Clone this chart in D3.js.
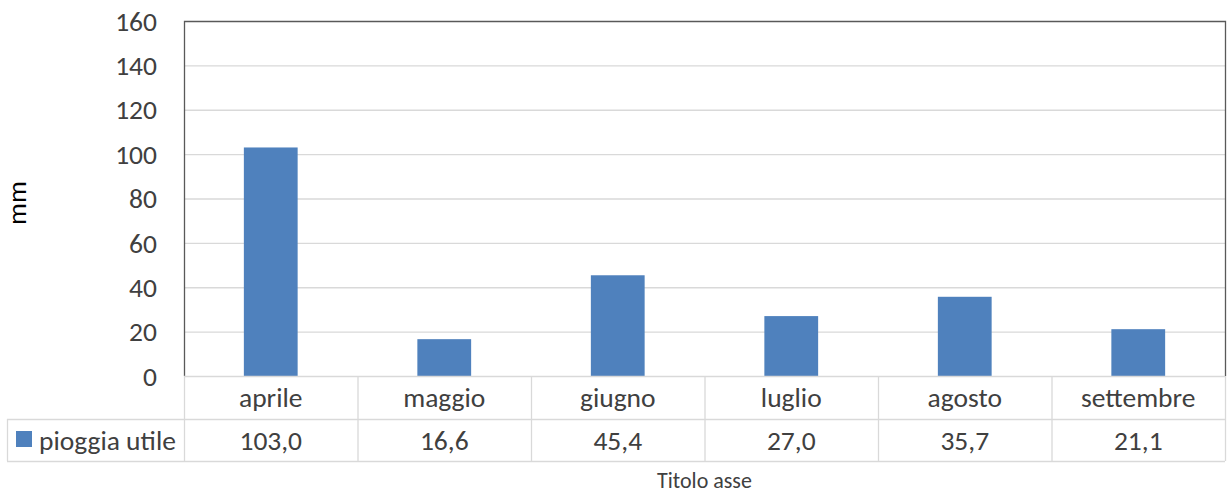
<!DOCTYPE html>
<html>
<head>
<meta charset="utf-8">
<script src="https://cdn.jsdelivr.net/npm/d3@7"></script>
<style>
  body { margin: 0; background: #fff; }
  text { font-family: Carlito, Lato, "Open Sans", sans-serif; fill: #404040; }
</style>
</head>
<body>
<svg id="chart"></svg>
<script>
var months = ["aprile", "maggio", "giugno", "luglio", "agosto", "settembre"];
var rainValues = [103.0, 16.6, 45.4, 27.0, 35.7, 21.1];
var seriesName = "pioggia utile";
var yTicks = [0, 20, 40, 60, 80, 100, 120, 140, 160];

var W = 1227, H = 493;
var plotLeft = 184, plotRight = 1225, plotTop = 21, zeroY = 376;
var row1 = 419, row2 = 461, legendLeft = 7;
var fs = "27.5px";

var svg = d3.select("#chart").attr("width", W).attr("height", H);

var x = d3.scaleBand().domain(months).range([plotLeft, plotRight]).paddingInner(0).paddingOuter(0);
var y = d3.scaleLinear().domain([0, 160]).range([zeroY, plotTop]);
var barW = x.bandwidth() * 0.31;

// gridlines
svg.append("g").selectAll("line").data(yTicks.filter(function(d) { return d > 0 && d < 160; }))
  .enter().append("line")
  .attr("x1", plotLeft).attr("x2", plotRight)
  .attr("y1", function(d) { return y(d) + 0.5; }).attr("y2", function(d) { return y(d) + 0.5; })
  .attr("stroke", "#d9d9d9").attr("stroke-width", 1.3);

// bars
svg.append("g").selectAll("rect").data(rainValues).enter().append("rect")
  .attr("x", function(d, i) { return x(months[i]) + x.bandwidth() / 2 - barW / 2; })
  .attr("y", function(d) { return y(d); })
  .attr("width", barW)
  .attr("height", function(d) { return zeroY - y(d); })
  .attr("fill", "#4f81bd");

// plot frame
svg.append("path")
  .attr("d", "M" + (plotLeft + 0.5) + "," + zeroY + "V" + (plotTop + 0.5) + "H" + (plotRight + 0.5) + "V" + zeroY)
  .attr("fill", "none").attr("stroke", "#595959").attr("stroke-width", 1.3);

// y tick labels
svg.append("g").selectAll("text").data(yTicks).enter().append("text")
  .attr("x", 157).attr("y", function(d) { return y(d); })
  .attr("dy", "0.35em").attr("text-anchor", "end")
  .style("font-size", fs).text(function(d) { return d; });

// y title
svg.append("text").attr("transform", "translate(26,203) rotate(-90)")
  .attr("text-anchor", "middle").style("font-size", fs).style("fill", "#000").text("mm");

// data table grid
var grid = svg.append("g").attr("stroke", "#d9d9d9").attr("stroke-width", 1.3);
grid.append("line").attr("x1", plotLeft).attr("x2", plotRight).attr("y1", zeroY + 0.5).attr("y2", zeroY + 0.5);
grid.append("line").attr("x1", legendLeft).attr("x2", plotRight).attr("y1", row1 + 0.5).attr("y2", row1 + 0.5);
grid.append("line").attr("x1", legendLeft).attr("x2", plotRight).attr("y1", row2 + 0.5).attr("y2", row2 + 0.5);
grid.append("line").attr("x1", legendLeft + 0.5).attr("x2", legendLeft + 0.5).attr("y1", row1).attr("y2", row2);
grid.selectAll("line.v").data(months.concat(["end"])).enter().append("line")
  .attr("class", "v")
  .attr("x1", function(d) { return (d === "end" ? plotRight : x(d)) + 0.5; })
  .attr("x2", function(d) { return (d === "end" ? plotRight : x(d)) + 0.5; })
  .attr("y1", zeroY).attr("y2", row2);

// category labels
svg.append("g").selectAll("text").data(months).enter().append("text")
  .attr("x", function(d) { return x(d) + x.bandwidth() / 2; })
  .attr("y", (zeroY + row1) / 2).attr("dy", "0.35em")
  .attr("text-anchor", "middle").style("font-size", fs).text(function(d) { return d; });

// values row
svg.append("g").selectAll("text").data(rainValues).enter().append("text")
  .attr("x", function(d, i) { return x(months[i]) + x.bandwidth() / 2; })
  .attr("y", (row1 + row2) / 2).attr("dy", "0.35em")
  .attr("text-anchor", "middle").style("font-size", fs)
  .text(function(d) { return d.toFixed(1).replace(".", ","); });

// legend key
svg.append("rect").attr("x", 16).attr("y", 431).attr("width", 16).attr("height", 16).attr("fill", "#4f81bd");
svg.append("text").attr("x", 39).attr("y", (row1 + row2) / 2).attr("dy", "0.35em")
  .style("font-size", fs).text(seriesName);

// x title
svg.append("text").attr("x", (plotLeft + plotRight) / 2).attr("y", 480).attr("dy", "0.35em")
  .attr("text-anchor", "middle").style("font-size", "22px").text("Titolo asse");
</script>
</body>
</html>
